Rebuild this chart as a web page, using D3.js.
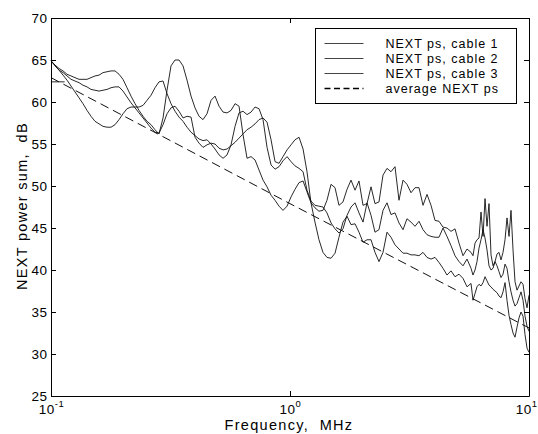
<!DOCTYPE html>
<html>
<head>
<meta charset="utf-8">
<script src="https://cdn.jsdelivr.net/npm/d3@7"></script>
<style>
  body { margin: 0; background: #fff; }
  svg { display: block; }
  text { font-family: "Liberation Sans", Arial, Helvetica, sans-serif; fill: #000; white-space: pre; }
  .line { fill: none; stroke: #111; stroke-width: 0.9; }
  .avg-line { fill: none; stroke: #111; stroke-width: 1; stroke-dasharray: 9 5; }
  .axis path, .axis line { stroke: #000; stroke-width: 1; }
  .axis text { font-size: 13.5px; letter-spacing: 0.5px; font-family: "Liberation Sans", Arial, Helvetica, sans-serif; }
  .axis-label { font-size: 14.5px; letter-spacing: 1.3px; }
  .legend text { font-size: 12.5px; letter-spacing: 1px; }
</style>
</head>
<body>
<div id="wrapper"></div>
<script>
// frequency grid (MHz) shared by the three measured cables
const freqs = [
  0.1, 0.1039, 0.108, 0.1123, 0.1167, 0.1213, 0.126, 0.131, 0.1361, 0.1415,
  0.147, 0.1528, 0.1588, 0.1651, 0.1716, 0.1783, 0.1853, 0.1926, 0.2001, 0.208,
  0.2162, 0.2247, 0.2335, 0.2427, 0.2522, 0.2621, 0.2724, 0.2831, 0.2943, 0.3058,
  0.3178, 0.3303, 0.3433, 0.3568, 0.3708, 0.3854, 0.4005, 0.4163, 0.4326, 0.4496,
  0.4673, 0.4857, 0.5048, 0.5246, 0.5452, 0.5666, 0.5889, 0.612, 0.6361, 0.6611,
  0.6871, 0.714, 0.7421, 0.7713, 0.8016, 0.8331, 0.8658, 0.8998, 0.9352, 0.9719,
  1.01, 1.049, 1.091, 1.134, 1.178, 1.224, 1.272, 1.322, 1.374, 1.428,
  1.485, 1.543, 1.603, 1.666, 1.732, 1.8, 1.871, 1.944, 2.021, 2.1,
  2.183, 2.268, 2.357, 2.45, 2.546, 2.646, 2.75, 2.858, 2.971, 3.087,
  3.209, 3.335, 3.466, 3.602, 3.744, 3.891, 4.044, 4.202, 4.368, 4.539,
  4.717, 4.903, 5.095, 5.296, 5.504, 5.72, 5.831, 5.945, 6.06, 6.178,
  6.298, 6.421, 6.546, 6.673, 6.803, 6.936, 7.071, 7.208, 7.348, 7.491,
  7.637, 7.786, 7.937, 8.091, 8.249, 8.409, 8.573, 8.74, 8.91, 9.083,
  9.26, 9.44, 9.624, 9.811, 10
]

// NEXT power sum, dB
const cable1 = [
  64.9, 64.4, 64.0, 63.7, 63.3, 63.1, 62.9, 62.7, 62.7, 62.7,
  62.9, 63.1, 63.2, 63.5, 63.6, 63.7, 63.7, 63.3, 62.7, 61.7,
  60.7, 59.8, 59.0, 58.3, 57.7, 57.3, 56.7, 56.2, 58.1, 61.4,
  64.3, 65.0, 65.0, 64.3, 62.6, 60.7, 59.3, 58.3, 57.9, 58.6,
  60.2, 60.7, 59.5, 58.8, 58.7, 59.0, 59.8, 59.5, 56.1, 53.3,
  53.5, 53.1, 51.9, 50.7, 49.9, 48.9, 48.3, 47.6, 47.1, 47.6,
  48.7, 49.6, 50.4, 50.6, 49.3, 48.0, 47.4, 47.0, 47.1, 48.3,
  50.2, 49.8, 47.7, 48.1, 49.6, 50.7, 49.5, 50.6, 47.7, 47.9,
  49.9, 47.9, 48.1, 51.3, 52.1, 51.7, 52.3, 48.3, 50.7, 50.2,
  49.2, 49.8, 49.8, 47.7, 49.0, 47.7, 45.9, 45.8, 45.1, 45.0,
  44.6, 44.9, 43.2, 41.7, 42.5, 42.1, 41.7, 43.2, 43.6, 43.8,
  46.9, 44.0, 48.5, 45.2, 47.9, 41.8, 40.5, 41.0, 41.9, 42.1,
  41.2, 42.1, 43.6, 46.2, 44.0, 47.1, 42.4, 38.6, 37.6, 38.1,
  38.6, 38.3, 36.6, 35.5, 37.0
]

const cable2 = [
  64.9, 64.3, 63.8, 63.5, 63.1, 62.7, 62.5, 62.3, 62.0, 61.8,
  61.5, 61.4, 61.3, 61.4, 61.5, 61.7, 61.8, 61.8, 61.3, 60.6,
  59.9, 59.3, 58.7, 58.1, 57.5, 56.9, 56.4, 56.3, 57.3, 58.6,
  59.3, 59.5, 58.9, 58.1, 58.3, 58.2, 55.8, 55.1, 54.6, 54.9,
  55.1, 55.0, 54.5, 54.3, 54.4, 54.8, 55.2, 55.7, 56.2, 56.7,
  57.0, 57.4, 57.9, 58.1, 57.6, 55.5, 52.9, 52.7, 53.5, 54.3,
  54.9, 55.5, 55.8, 54.4, 51.7, 48.0, 45.7, 43.6, 42.1, 41.5,
  41.4, 42.0, 43.9, 45.7, 46.4, 45.4, 45.5, 44.5, 43.3, 43.6,
  43.6, 42.1, 41.0, 42.1, 44.5, 43.9, 43.0, 42.5, 42.0, 42.0,
  41.8, 41.8, 41.7, 42.1, 41.5, 41.3, 41.5, 40.9, 40.2, 39.4,
  39.9, 39.2, 39.5, 39.0, 38.0, 38.4, 36.4, 37.2, 38.0, 38.3,
  38.1, 38.5, 39.2, 38.7, 38.2, 38.0, 37.7, 37.5, 37.3, 36.9,
  36.7, 37.4, 38.5, 36.4, 34.6, 33.5, 32.5, 32.0, 33.2, 34.3,
  35.0, 34.5, 32.3, 30.7, 30.2
]

const cable3 = [
  64.9, 64.4, 63.8, 63.2, 62.6, 61.9, 61.2, 60.5, 59.8, 59.0,
  58.3, 57.7, 57.4, 57.1, 57.0, 57.0, 57.3, 57.9, 58.6, 59.2,
  59.4, 59.4, 59.4, 59.6, 60.2, 60.8, 61.7, 62.4, 62.5, 61.0,
  59.8, 58.9, 58.2, 57.7, 57.0, 56.4, 56.0, 55.6, 55.4, 55.5,
  55.0, 54.4, 53.7, 53.3, 53.7, 54.9, 57.1, 58.7, 58.9, 58.5,
  58.8, 59.4, 59.2, 57.9, 54.6, 52.5, 52.0, 52.3, 53.0, 53.5,
  52.9, 52.4, 52.1, 51.7, 49.5, 48.2, 47.7, 47.6, 47.5, 46.8,
  45.6, 44.9, 44.4, 44.9, 46.5, 47.5, 48.0, 46.8, 45.7, 48.0,
  46.5, 44.5, 44.8, 47.1, 48.0, 46.6, 46.8, 45.6, 44.8, 46.1,
  45.7, 45.2, 45.8, 44.8, 44.2, 44.0, 43.9, 43.9, 45.0, 44.0,
  42.9, 41.7, 41.0, 40.5, 41.3, 40.2, 39.4, 40.0, 41.0, 42.6,
  43.6, 44.8, 43.8, 42.4, 40.5, 40.0, 40.2, 41.0, 40.5, 39.8,
  39.1, 39.5, 40.7, 40.2, 38.6, 37.4, 36.4, 35.7, 36.0, 36.7,
  37.4, 36.4, 34.5, 33.3, 32.7
]

// average NEXT ps (dashed)
const avgFreqs = [0.1, 1, 10]
const avgValues = [62.9, 47.9, 33.1]

// short flat piece at the left edge
const stubFreqs = [0.1, 0.114]
const stubValues = [62.4, 62.4]

const yTicks = [25, 30, 35, 40, 45, 50, 55, 60, 65, 70]
const xTicks = [0.1, 1, 10]
const xTickExponents = ["-1", "0", "1"]
const legendLabels = ["NEXT ps, cable 1", "NEXT ps, cable 2", "NEXT ps, cable 3", "average NEXT ps"]

function drawChart() {

  // 1. Access data
  const series = [cable1, cable2, cable3].map(values => d3.zip(freqs, values))
  const average = d3.zip(avgFreqs, avgValues)
  const stub = d3.zip(stubFreqs, stubValues)
  const xAccessor = d => d[0]
  const yAccessor = d => d[1]

  // 2. Create chart dimensions
  let dimensions = {
    width: 538,
    height: 434,
    margin: {
      top: 18,
      right: 9,
      bottom: 38,
      left: 51,
    },
  }
  dimensions.boundedWidth = dimensions.width - dimensions.margin.left - dimensions.margin.right
  dimensions.boundedHeight = dimensions.height - dimensions.margin.top - dimensions.margin.bottom

  // 3. Draw canvas
  const wrapper = d3.select("#wrapper")
    .append("svg")
    .attr("width", dimensions.width)
    .attr("height", dimensions.height)

  const bounds = wrapper.append("g")
    .attr("transform", `translate(${dimensions.margin.left}, ${dimensions.margin.top})`)

  // 4. Create scales
  const xScale = d3.scaleLog()
    .domain([0.1, 10])
    .range([0, dimensions.boundedWidth])

  const yScale = d3.scaleLinear()
    .domain([25, 70])
    .range([dimensions.boundedHeight, 0])

  // 5. Draw data
  const lineGenerator = d3.line()
    .x(d => xScale(xAccessor(d)))
    .y(d => yScale(yAccessor(d)))

  bounds.selectAll(".line")
    .data(series)
    .join("path")
    .attr("class", "line")
    .attr("d", lineGenerator)

  bounds.append("path")
    .attr("class", "line")
    .attr("d", lineGenerator(stub))

  bounds.append("path")
    .attr("class", "avg-line")
    .attr("d", lineGenerator(average))

  // 6. Draw peripherals
  bounds.append("g")
    .attr("class", "axis y-axis")
    .call(d3.axisLeft(yScale)
      .tickValues(yTicks)
      .tickSizeInner(-5)
      .tickSizeOuter(0)
      .tickPadding(3.5))

  bounds.append("g")
    .attr("class", "axis")
    .attr("transform", `translate(${dimensions.boundedWidth}, 0)`)
    .call(d3.axisRight(yScale)
      .tickValues(yTicks)
      .tickSizeInner(-5)
      .tickSizeOuter(0)
      .tickFormat(""))

  const xAxis = bounds.append("g")
    .attr("class", "axis x-axis")
    .attr("transform", `translate(0, ${dimensions.boundedHeight})`)
    .call(d3.axisBottom(xScale)
      .tickValues(xTicks)
      .tickSizeInner(-5)
      .tickSizeOuter(0)
      .tickFormat(""))

  // tick labels as 10 with a raised exponent, the last one kept inside the page
  const xLabels = xAxis.selectAll(".tick")
    .append("text")
    .attr("x", (d, i) => i == xTicks.length - 1 ? 8 : 0)
    .attr("y", 17.5)
    .attr("text-anchor", (d, i) => i == xTicks.length - 1 ? "end" : "middle")

  xLabels.append("tspan").text("10")
  xLabels.append("tspan")
    .attr("dy", -6.5)
    .style("font-size", "9.5px")
    .text((d, i) => xTickExponents[i])

  bounds.append("g")
    .attr("class", "axis")
    .call(d3.axisTop(xScale)
      .tickValues(xTicks)
      .tickSizeInner(-5)
      .tickSizeOuter(0)
      .tickFormat(""))

  bounds.append("text")
    .attr("class", "axis-label")
    .attr("x", 238)
    .attr("y", dimensions.boundedHeight + 34)
    .attr("text-anchor", "middle")
    .text("Frequency,  MHz")

  bounds.append("text")
    .attr("class", "axis-label")
    .attr("transform", `translate(-24.5, ${dimensions.boundedHeight / 2 - 1}) rotate(-90)`)
    .attr("text-anchor", "middle")
    .text("NEXT power sum,  dB")

  // legend
  const legend = wrapper.append("g")
    .attr("class", "legend")
    .attr("transform", "translate(315.5, 28.5)")

  legend.append("rect")
    .attr("width", 201)
    .attr("height", 75)
    .attr("fill", "#fff")
    .attr("stroke", "#000")

  const legendItems = legend.selectAll(".legend-item")
    .data(legendLabels)
    .join("g")
    .attr("class", "legend-item")
    .attr("transform", (d, i) => `translate(0, ${15 + i * 15})`)

  legendItems.append("line")
    .attr("x1", 9)
    .attr("x2", 48)
    .attr("stroke", (d, i) => i < 3 ? "#444" : "#000")
    .attr("stroke-width", (d, i) => i < 3 ? 1 : 1.6)
    .attr("stroke-dasharray", (d, i) => i < 3 ? null : "6 3.5")

  legendItems.append("text")
    .attr("x", 70)
    .attr("dy", "0.35em")
    .text(d => d)
}
drawChart()
</script>
</body>
</html>
